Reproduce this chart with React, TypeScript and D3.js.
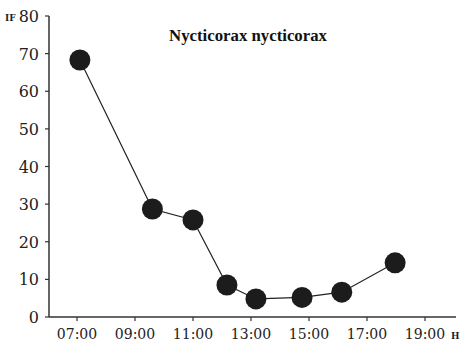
import React from "react";
import * as d3 from "d3";

const hours = [7.1, 9.6, 11.0, 12.17, 13.17, 14.76, 16.13, 17.97];
const values = [68.3, 28.7, 25.8, 8.5, 4.8, 5.2, 6.6, 14.4];
const xTicks = [7, 9, 11, 13, 15, 17, 19];
const yTicks = [0, 10, 20, 30, 40, 50, 60, 70, 80];
const title = "Nycticorax nycticorax";

const fmt = (h: number) => (h < 10 ? "0" : "") + h + ":00";

export default function App() {
  const W = 472, H = 354;
  const x = d3.scaleLinear().domain([6, 20]).range([48, 454]);
  const y = d3.scaleLinear().domain([0, 80]).range([317, 16]);
  const pts = hours.map((h, i) => [x(h), y(values[i])] as [number, number]);
  const line = d3.line()(pts) || "";
  const serif = "'DejaVu Serif', 'Liberation Serif', serif";
  return (
    <svg width={W} height={H} style={{ position: "absolute", left: 0, top: 0, background: "#fff" }}>
      <rect width={W} height={H} fill="#fff" />
      <line x1={49} x2={49} y1={y(80)} y2={y(0)} stroke="#333" strokeWidth={1.5} />
      <line x1={49} x2={456} y1={y(0)} y2={y(0)} stroke="#333" strokeWidth={1.5} />
      {yTicks.map((t) => (
        <g key={t}>
          <line x1={45} x2={49} y1={y(t)} y2={y(t)} stroke="#333" strokeWidth={1.2} />
          <text x={39} y={y(t) + 6} textAnchor="end" fontFamily={serif} fontSize={16} fill="#222">
            {t}
          </text>
        </g>
      ))}
      {xTicks.map((t) => (
        <g key={t}>
          <line x1={x(t)} x2={x(t)} y1={y(0)} y2={y(0) + 4} stroke="#333" strokeWidth={1.2} />
          <text x={x(t)} y={339} textAnchor="middle" fontFamily={serif} fontSize={14} fill="#222">
            {fmt(t)}
          </text>
        </g>
      ))}
      <text x={5} y={21} fontFamily={serif} fontSize={9} fontWeight="bold" fill="#222">IF</text>
      <text x={451} y={339} fontFamily={serif} fontSize={9} fontWeight="bold" fill="#222">H</text>
      <text x={248} y={41} textAnchor="middle" fontFamily="'Liberation Serif', serif" fontSize={16.8} fontWeight="bold" fill="#111">
        {title}
      </text>
      <path d={line} fill="none" stroke="#222" strokeWidth={1.2} />
      {pts.map((p, i) => (
        <circle key={i} cx={p[0]} cy={p[1]} r={10.5} fill="#1c1c1c" />
      ))}
    </svg>
  );
}
